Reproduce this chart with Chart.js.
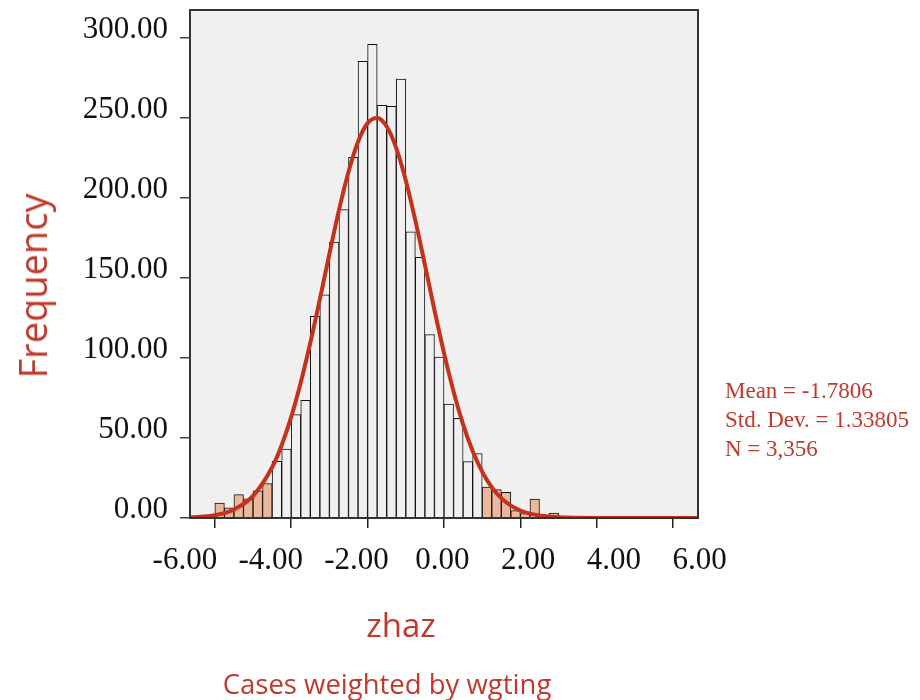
<!DOCTYPE html>
<html>
<head>
<meta charset="utf-8">
<script src="https://cdn.jsdelivr.net/npm/chart.js@4.4.1/dist/chart.umd.min.js"></script>
<style>
  html, body { margin: 0; padding: 0; background: #fff; }
  #wrap { position: relative; width: 920px; height: 700px; }
  #chart { position: absolute; left: 0; top: 0; }
  .lbl { position: absolute; color: #c0392b; font-family: 'Open Sans', sans-serif; white-space: nowrap; }
  #ytitle { left: 32px; top: 286px; font-size: 38px; transform: translate(-50%, -50%) rotate(-90deg); }
  #xtitle { left: 401px; top: 624px; font-size: 33px; transform: translate(-50%, -50%); }
  #caption { left: 387px; top: 683px; font-size: 27.5px; transform: translate(-50%, -50%); }
  #stats { left: 725px; top: 376px; font-family: 'Liberation Serif', serif; font-size: 23px; line-height: 29px; }
</style>
</head>
<body>
<div id="wrap">
  <canvas id="chart" width="920" height="700"></canvas>
  <div class="lbl" id="ytitle">Frequency</div>
  <div class="lbl" id="xtitle">zhaz</div>
  <div class="lbl" id="caption">Cases weighted by wgting</div>
  <div class="lbl" id="stats">Mean = -1.7806<br>Std. Dev. = 1.33805<br>N = 3,356</div>
</div>
<script>
// histogram bins (width 0.25), value = bin centre
const binCentres = [-5.875, -5.625, -5.375, -5.125, -4.875, -4.625, -4.375, -4.125,
  -3.875, -3.625, -3.375, -3.125, -2.875, -2.625, -2.375, -2.125,
  -1.875, -1.625, -1.375, -1.125, -0.875, -0.625, -0.375, -0.125,
  0.125, 0.375, 0.625, 0.875, 1.125, 1.375, 1.625, 1.875,
  2.125, 2.375, 2.625, 2.875];
const binCounts = [9.4, 6.3, 14.6, 12, 17, 21.5, 35.4, 43,
  64.6, 73.5, 126, 139.5, 172.5, 192.7, 225.4, 285.4,
  296, 257.9, 257.3, 274.4, 178.8, 162.9, 114.6, 100.6,
  71.2, 62.3, 35.2, 40.2, 19.4, 17.7, 16, 4.6,
  2.8, 11.9, 0, 3.1];

// normal curve
const curveX = [-6.65, -6, -5.5, -5, -4.5, -4.25, -4, -3.75, -3.5, -3.25, -3, -2.75, -2.5, -2.25, -2,
  -1.75, -1.5, -1.25, -1, -0.75, -0.5, -0.25, 0, 0.25, 0.5, 0.75, 1, 1.25, 1.5, 1.75, 2, 2.25, 2.5, 3, 4, 6.65];
const curveY = [0.3, 1.7, 5.3, 13.8, 31.7, 45.5, 63.2, 84.7, 109.5, 136.8, 165.1, 192.4, 216.4, 235.2, 246.8,
  250, 244.7, 231.2, 211, 185.9, 158.2, 130, 103.2, 79.1, 58.5, 41.8, 28.9, 19.2, 12.4, 7.7, 4.6, 2.7, 1.5, 0.4, 0, 0];

const mean = -1.7806;
const stdDev = 1.33805;

const xTicks = [-6, -4, -2, 0, 2, 4, 6];
const yTicks = [0, 50, 100, 150, 200, 250, 300];

const plotFrame = {
  id: 'plotFrame',
  beforeDatasetsDraw(chart) {
    const a = chart.chartArea, ctx = chart.ctx;
    ctx.save();
    ctx.fillStyle = '#f0f0f0';
    ctx.fillRect(a.left, a.top, a.right - a.left, a.bottom - a.top);
    ctx.restore();
  },
  afterDraw(chart) {
    const a = chart.chartArea, ctx = chart.ctx;
    ctx.save();
    ctx.strokeStyle = '#333';
    ctx.lineWidth = 2;
    ctx.strokeRect(a.left, a.top, a.right - a.left, a.bottom - a.top);
    ctx.restore();
  }
};

const tickFont = { family: "'Liberation Serif', serif", size: 31 };

function noPad(s) {
  s.paddingTop = 0; s.paddingBottom = 0; s.paddingLeft = 0; s.paddingRight = 0;
}

new Chart(document.getElementById('chart'), {
  type: 'bar',
  data: {
    datasets: [{
      type: 'line',
      order: 0,
      data: curveX.map((x, i) => ({ x: x, y: curveY[i] })),
      borderColor: '#c4311d',
      borderWidth: 4,
      pointRadius: 0,
      cubicInterpolationMode: 'monotone',
      xAxisID: 'x'
    }, {
      type: 'bar',
      order: 1,
      data: binCentres.map((x, i) => ({ x: x, y: binCounts[i] })),
      backgroundColor: ctx => {
        const v = binCentres[ctx.dataIndex];
        return (v < mean - 2 * stdDev || v > mean + 2 * stdDev) ? '#ecb89c' : '#f0f0f0';
      },
      borderColor: '#111',
      borderWidth: 1,
      barPercentage: 1,
      categoryPercentage: 1,
      grouped: false,
      xAxisID: 'x'
    }]
  },
  options: {
    responsive: false,
    devicePixelRatio: 1,
    animation: false,
    layout: { padding: { top: 10, right: 222, bottom: 112, left: 0 } },
    plugins: { legend: { display: false }, tooltip: { enabled: false } },
    scales: {
      x: {
        type: 'linear',
        position: 'bottom',
        min: -6.65,
        max: 6.65,
        offset: false,
        afterFit: s => { s.height = 10; noPad(s); },
        afterBuildTicks: s => { s.ticks = xTicks.map(v => ({ value: v })); },
        ticks: { display: false },
        border: { display: false },
        grid: { offset: false, drawOnChartArea: false, drawTicks: true, tickLength: 10, color: '#222', lineWidth: 1.5 }
      },
      // labels sit on their own evenly spread scale, as in the original output
      x2: {
        type: 'linear',
        position: 'bottom',
        min: -5.88,
        max: 5.96,
        offset: false,
        afterFit: s => { s.height = 60; noPad(s); },
        afterBuildTicks: s => { s.ticks = xTicks.map(v => ({ value: v })); },
        ticks: { color: '#111', font: tickFont, padding: 6, maxRotation: 0, callback: v => v.toFixed(2) },
        border: { display: false },
        grid: { display: false, offset: false }
      },
      y: {
        min: 0,
        max: 317.5,
        afterFit: s => { s.width = 190; noPad(s); },
        afterBuildTicks: s => { s.ticks = yTicks.map(v => ({ value: v })); },
        ticks: { color: '#111', font: tickFont, padding: 12, labelOffset: -8, callback: v => v.toFixed(2) },
        border: { display: false },
        grid: { drawOnChartArea: false, drawTicks: true, tickLength: 10, color: '#444', lineWidth: 1.5 }
      }
    }
  },
  plugins: [plotFrame]
});
</script>
</body>
</html>
